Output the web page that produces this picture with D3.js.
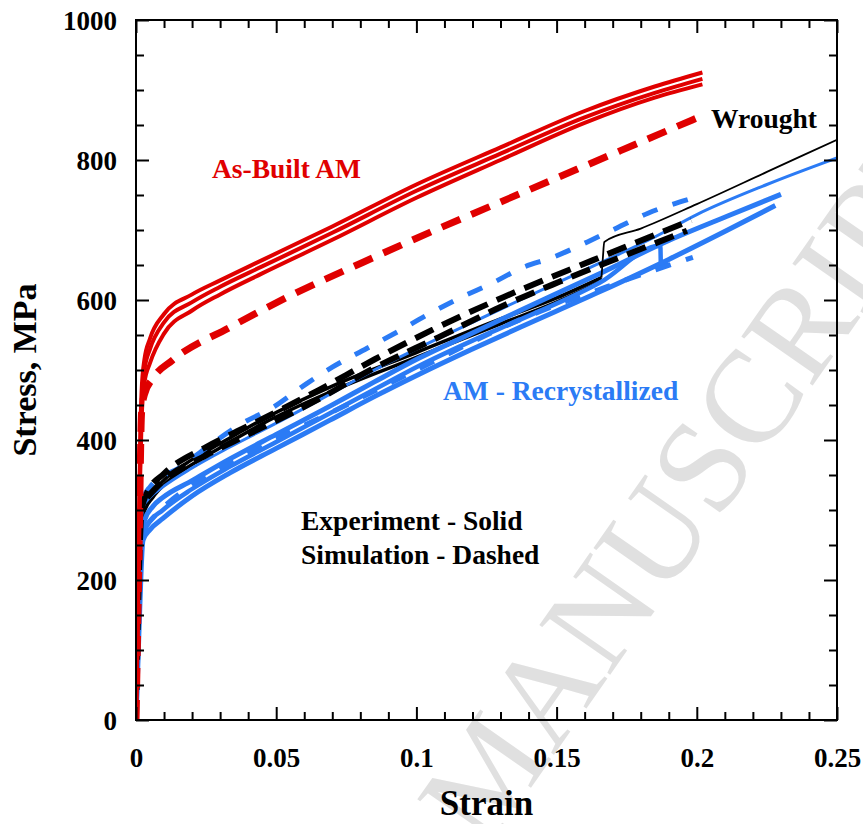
<!DOCTYPE html>
<html>
<head>
<meta charset="utf-8">
<script src="https://cdn.jsdelivr.net/npm/d3@7"></script>
<style>
  body { margin: 0; background: #fff; }
  svg { display: block; font-family: "Liberation Serif", "Times New Roman", serif; font-weight: bold; }
</style>
</head>
<body>
<div id="chart"></div>
<script>
// tick values
const xMajor = [0, 0.05, 0.1, 0.15, 0.2, 0.25];
const xTickLabels = ['0', '0.05', '0.1', '0.15', '0.2', '0.25'];
const yMajor = [0, 200, 400, 600, 800, 1000];

// As-Built AM, experiment (solid, red) - three specimens
const abStrain = [0, 0.0005, 0.001, 0.0015, 0.002, 0.003, 0.005, 0.01, 0.02, 0.03, 0.045, 0.07, 0.1, 0.13, 0.16, 0.185, 0.202];
const abExp1 = [0, 120, 260, 400, 470, 515, 545, 580, 608, 628, 657, 705, 765, 818, 870, 905, 925];
const abExp2 = [0, 110, 240, 380, 450, 500, 530, 568, 597, 619, 648, 696, 756, 809, 861, 896, 916];
const abExp3 = [0, 100, 220, 350, 430, 482, 510, 552, 585, 608, 638, 686, 746, 800, 853, 889, 908];

// As-Built AM, simulation (dashed, red)
const abSimStrain = [0, 0.001, 0.002, 0.003, 0.006, 0.013, 0.0335, 0.057, 0.081, 0.105, 0.137, 0.1726, 0.2];
const abSim = [0, 220, 440, 465, 488, 514, 561, 610, 654, 697, 752, 813, 860];

// Wrought, experiment (solid, black)
const wrStrain1 = [0, 0.001, 0.002, 0.003, 0.006, 0.01, 0.02, 0.03, 0.045, 0.07, 0.1, 0.13, 0.15, 0.166];
const wrExp1 = [0, 200, 290, 305, 325, 343, 372, 395, 429, 477, 525, 573, 603, 632];
const wrStrain2 = [0, 0.001, 0.002, 0.003, 0.006, 0.01, 0.02, 0.03, 0.045, 0.07, 0.1, 0.13, 0.15, 0.1655];
const wrExp2 = [0, 190, 280, 298, 318, 336, 365, 389, 423, 470, 518, 566, 597, 626];
const wrTailStrain = [0.166, 0.1665, 0.167, 0.18, 0.2, 0.225, 0.25];
const wrTail = [632, 660, 683, 702, 737, 783, 829];

// Wrought, simulation (dashed, black)
const wrSimStrain1 = [0, 0.001, 0.002, 0.004, 0.01, 0.025, 0.04, 0.065, 0.085, 0.106, 0.131, 0.163, 0.198];
const wrSim1 = [0, 200, 300, 325, 352, 390, 420, 471, 515, 558, 604, 657, 714];
const wrSimStrain2 = [0.004, 0.01, 0.025, 0.04, 0.065, 0.085, 0.108, 0.13, 0.151, 0.1726, 0.1965];
const wrSim2 = [318, 343, 378, 408, 458, 503, 547, 590, 626, 661, 699];

// AM - Recrystallized, experiment (solid, blue)
const rxStrain1 = [0, 0.0005, 0.001, 0.0015, 0.0025, 0.005, 0.0096, 0.02, 0.0335, 0.05, 0.069, 0.085, 0.101, 0.12, 0.137, 0.1655, 0.185, 0.2, 0.225, 0.25];
const rxExp1 = [0, 90, 190, 270, 304, 318, 333, 360, 390, 424, 465, 500, 532, 568, 600, 653, 690, 722, 765, 803];
const rxStrain2 = [0, 0.001, 0.002, 0.003, 0.006, 0.0096, 0.02, 0.0335, 0.05, 0.069, 0.085, 0.101, 0.12, 0.137, 0.1655, 0.19, 0.211, 0.23];
const rxExp2 = [0, 150, 260, 285, 305, 318, 342, 373, 408, 448, 483, 517, 553, 585, 638, 685, 720, 751];
const rxStrain3 = [0, 0.001, 0.0025, 0.005, 0.0096, 0.02, 0.0335, 0.05, 0.069, 0.085, 0.101, 0.12, 0.137, 0.1655, 0.19, 0.211, 0.228];
const rxExp3 = [0, 120, 257, 272, 288, 320, 353, 388, 428, 462, 494, 530, 561, 612, 658, 700, 735];
const rxStrain4 = [0, 0.001, 0.002, 0.004, 0.0096, 0.02, 0.0335, 0.05, 0.069, 0.085, 0.101, 0.12, 0.137, 0.1655, 0.187, 0.1872, 0.19];
const rxExp4 = [0, 140, 250, 278, 300, 330, 362, 397, 438, 472, 506, 542, 572, 625, 678, 650, 652];

// AM - Recrystallized, simulation (dashed, blue)
const rxSimStrain1 = [0, 0.001, 0.002, 0.005, 0.0157, 0.0275, 0.038, 0.049, 0.061, 0.07, 0.0824, 0.093, 0.104, 0.1155, 0.127, 0.1377, 0.1487, 0.161, 0.1715, 0.1826, 0.198];
const rxSim1 = [0, 200, 310, 333, 361, 396, 424, 447, 481, 504, 531, 554, 579, 603, 624, 646, 661, 683, 703, 724, 745];
const rxSimStrain2 = [0.003, 0.01, 0.02, 0.04, 0.07, 0.1, 0.137, 0.168, 0.1986];
const rxSim2 = [275, 305, 336, 382, 440, 500, 572, 619, 661];

const RED = '#e00000';
const BLUE = '#2b7bf5';
const BLACK = '#000';

const width = 863, height = 824;
const margin = { left: 136, right: 26, top: 20, bottom: 104 };
const plotW = width - margin.left - margin.right;
const plotH = height - margin.top - margin.bottom;

const svg = d3.select('#chart').append('svg')
    .attr('width', width)
    .attr('height', height);

const x = d3.scaleLinear().domain([0, 0.25]).range([0, plotW]);
const y = d3.scaleLinear().domain([0, 1000]).range([plotH, 0]);

// watermark
svg.append('text')
    .attr('transform', 'translate(486,852) rotate(-55)')
    .attr('font-family', '"Liberation Serif", serif')
    .attr('font-weight', 'normal')
    .attr('font-size', 132)
    .attr('fill', '#e0e0e0')
    .text('MANUSCRIPT');

const g = svg.append('g').attr('transform', `translate(${margin.left},${margin.top})`);

g.append('clipPath').attr('id', 'plot-clip')
    .append('rect').attr('width', plotW).attr('height', plotH);

const plot = g.append('g').attr('clip-path', 'url(#plot-clip)');

const line = d3.line()
    .x(d => x(d[0]))
    .y(d => y(d[1]))
    .curve(d3.curveMonotoneX);

function drawCurve(strain, stress, color, widthPx, dash) {
    const pts = strain.map((s, i) => [s, stress[i]]);
    plot.append('path')
        .datum(pts)
        .attr('d', line)
        .attr('fill', 'none')
        .attr('stroke', color)
        .attr('stroke-width', widthPx)
        .attr('stroke-linejoin', 'round')
        .attr('stroke-dasharray', dash || null);
}

// experiments (solid)
drawCurve(wrStrain1, wrExp1, BLACK, 3.5);
drawCurve(wrStrain2, wrExp2, BLACK, 3.5);
drawCurve(rxStrain3, rxExp3, BLUE, 5);
drawCurve(rxStrain4, rxExp4, BLUE, 4.5);
drawCurve(rxStrain2, rxExp2, BLUE, 5);
drawCurve(rxStrain1, rxExp1, BLUE, 3);
drawCurve(wrTailStrain, wrTail, BLACK, 1.8);

// simulations (dashed)
drawCurve(rxSimStrain2, rxSim2, BLUE, 5, '16,16');
drawCurve(rxSimStrain1, rxSim1, BLUE, 5, '16,16');
drawCurve(wrSimStrain2, wrSim2, BLACK, 6, '20,10');
drawCurve(wrSimStrain1, wrSim1, BLACK, 6, '20,10');

drawCurve(abStrain, abExp3, RED, 4);
drawCurve(abStrain, abExp2, RED, 4);
drawCurve(abStrain, abExp1, RED, 4);
drawCurve(abSimStrain, abSim, RED, 7, '20,12');

// axes: inward ticks on all sides
const xMinor = d3.range(0, 0.2501, 0.01).filter(v => Math.abs(v / 0.05 - Math.round(v / 0.05)) > 1e-6);
const yMinor = d3.range(0, 1001, 50).filter(v => v % 200 !== 0);

function styleAxis(sel) {
    sel.attr('font-family', null).attr('font-size', null);
    sel.select('.domain').remove();
    sel.selectAll('line').attr('stroke', BLACK).attr('stroke-width', 2);
}

g.append('g').attr('transform', `translate(0,${plotH})`)
    .call(d3.axisBottom(x).tickValues(xMajor).tickSize(-13).tickPadding(28)
        .tickFormat((d, i) => xTickLabels[i]))
    .call(styleAxis)
    .selectAll('text').attr('font-size', 27).attr('fill', BLACK);
g.append('g').attr('transform', `translate(0,${plotH})`)
    .call(d3.axisBottom(x).tickValues(xMinor).tickSize(-8).tickFormat(''))
    .call(styleAxis);

g.append('g')
    .call(d3.axisTop(x).tickValues(xMajor).tickSize(-13).tickFormat(''))
    .call(styleAxis);
g.append('g')
    .call(d3.axisTop(x).tickValues(xMinor).tickSize(-8).tickFormat(''))
    .call(styleAxis);

g.append('g')
    .call(d3.axisLeft(y).tickValues(yMajor).tickSize(-13).tickPadding(19).tickFormat(d3.format('d')))
    .call(styleAxis)
    .selectAll('text').attr('font-size', 27).attr('fill', BLACK).attr('dy', '0.34em');
g.append('g')
    .call(d3.axisLeft(y).tickValues(yMinor).tickSize(-8).tickFormat(''))
    .call(styleAxis);

g.append('g').attr('transform', `translate(${plotW},0)`)
    .call(d3.axisRight(y).tickValues(yMajor).tickSize(-13).tickFormat(''))
    .call(styleAxis);
g.append('g').attr('transform', `translate(${plotW},0)`)
    .call(d3.axisRight(y).tickValues(yMinor).tickSize(-8).tickFormat(''))
    .call(styleAxis);

g.append('rect')
    .attr('width', plotW).attr('height', plotH)
    .attr('fill', 'none').attr('stroke', BLACK).attr('stroke-width', 2);

// axis titles
svg.append('text')
    .attr('x', margin.left + plotW / 2).attr('y', 815)
    .attr('text-anchor', 'middle')
    .attr('font-size', 35)
    .text('Strain');

svg.append('text')
    .attr('transform', `translate(36,${margin.top + plotH / 2}) rotate(-90)`)
    .attr('text-anchor', 'middle')
    .attr('font-size', 34)
    .text('Stress, MPa');

// annotations
const notes = [
    { text: 'As-Built AM', x: 212, y: 178, color: RED },
    { text: 'Wrought', x: 711, y: 128, color: BLACK },
    { text: 'AM - Recrystallized', x: 443, y: 400, color: BLUE },
    { text: 'Experiment - Solid', x: 301, y: 530, color: BLACK },
    { text: 'Simulation - Dashed', x: 301, y: 564, color: BLACK }
];
svg.selectAll('.note').data(notes).enter().append('text')
    .attr('class', 'note')
    .attr('x', d => d.x).attr('y', d => d.y)
    .attr('font-size', 27.5)
    .attr('fill', d => d.color)
    .text(d => d.text);
</script>
</body>
</html>
